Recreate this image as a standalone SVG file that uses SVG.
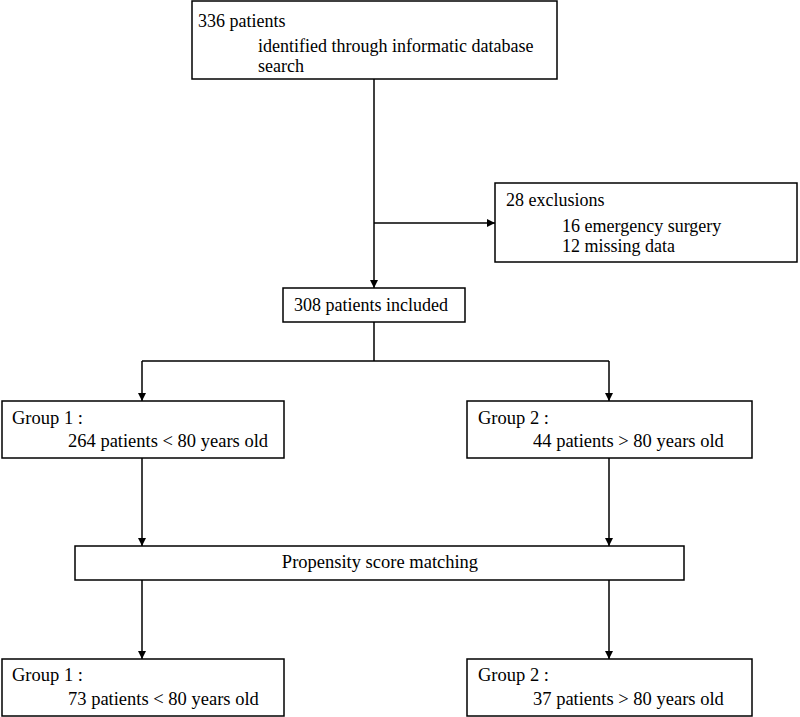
<svg xmlns="http://www.w3.org/2000/svg" width="800" height="717" viewBox="0 0 800 717">
<style>
.box{fill:#fff;stroke:#000;stroke-width:1.5}
text{font-family:'Liberation Serif','DejaVu Serif',serif;font-size:18px;fill:#000}
.c{font-size:18.5px}
.ln{fill:none;stroke:#000;stroke-width:1.5}
</style>
<defs>
<marker id="ah" viewBox="0 0 10 10" refX="10" refY="5" markerWidth="8" markerHeight="8" markerUnits="userSpaceOnUse" orient="auto">
<path d="M0,0 L10,5 L0,10 z" fill="#000"/>
</marker>
</defs>
<rect width="800" height="717" fill="#fff"/>
<g id="connectors">
<path class="ln" d="M374,79 V288" marker-end="url(#ah)"/>
<path class="ln" d="M374,223 H495" marker-end="url(#ah)"/>
<path class="ln" d="M374,322 V361 M142,361 H609"/>
<path class="ln" d="M142,361 V401" marker-end="url(#ah)"/>
<path class="ln" d="M609,361 V401" marker-end="url(#ah)"/>
<path class="ln" d="M142,458 V546" marker-end="url(#ah)"/>
<path class="ln" d="M609,458 V546" marker-end="url(#ah)"/>
<path class="ln" d="M142,580 V659" marker-end="url(#ah)"/>
<path class="ln" d="M609,580 V659" marker-end="url(#ah)"/>
</g>
<g id="n1">
<rect class="box" x="192" y="1" width="365" height="78"/>
<text x="198" y="27">336 patients</text>
<text x="258" y="52">identified through informatic database</text>
<text x="258" y="72">search</text>
</g>
<g id="n2">
<rect class="box" x="495" y="183" width="302" height="79"/>
<text x="506" y="206">28 exclusions</text>
<text x="562" y="232">16 emergency surgery</text>
<text x="562" y="252">12 missing data</text>
</g>
<g id="n3">
<rect class="box" x="283" y="288" width="182" height="34"/>
<text x="294" y="311" font-size="18.5">308 patients included</text>
</g>
<g id="n4">
<rect class="box" x="2" y="401" width="282" height="57"/>
<text class="c" x="12" y="424">Group 1 :</text>
<text class="c" x="68" y="447">264 patients &lt; 80 years old</text>
</g>
<g id="n5">
<rect class="box" x="467" y="401" width="285" height="57"/>
<text class="c" x="478" y="424">Group 2 :</text>
<text class="c" x="533" y="447">44 patients &gt; 80 years old</text>
</g>
<g id="n6">
<rect class="box" x="75" y="546" width="609" height="34"/>
<text class="c" x="380" y="568" text-anchor="middle">Propensity score matching</text>
</g>
<g id="n7">
<rect class="box" x="2" y="659" width="282" height="57"/>
<text class="c" x="12" y="681">Group 1 :</text>
<text class="c" x="68" y="705">73 patients &lt; 80 years old</text>
</g>
<g id="n8">
<rect class="box" x="467" y="659" width="285" height="57"/>
<text class="c" x="478" y="681">Group 2 :</text>
<text class="c" x="533" y="705">37 patients &gt; 80 years old</text>
</g>
</svg>
